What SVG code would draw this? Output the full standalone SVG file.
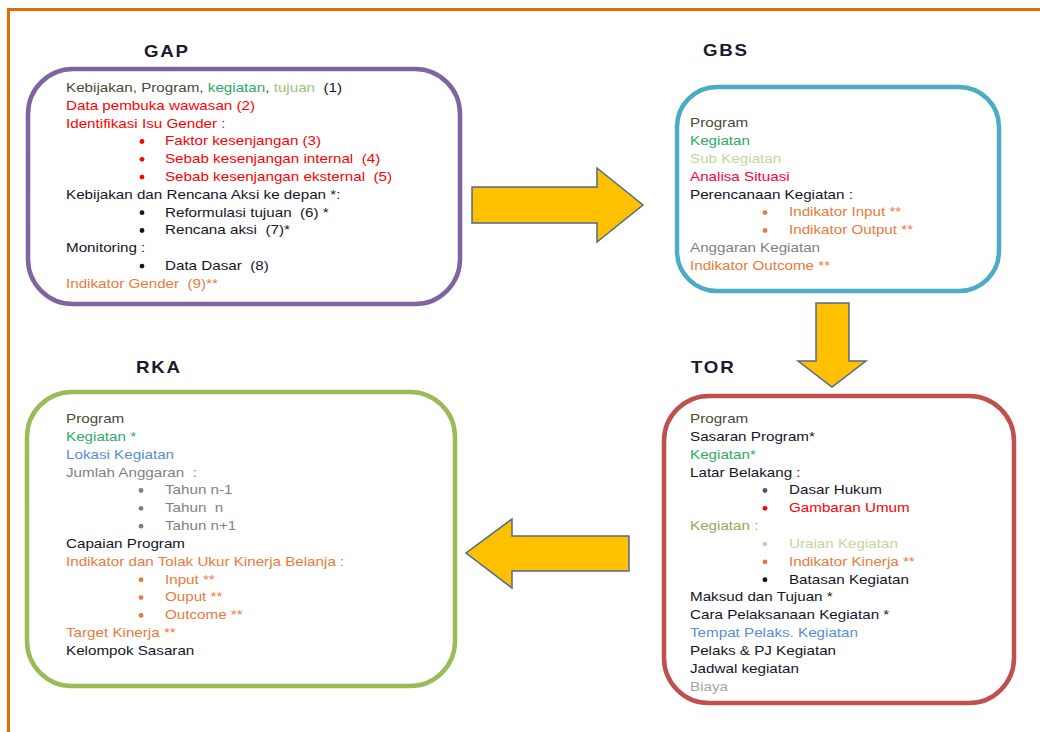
<svg xmlns="http://www.w3.org/2000/svg" width="1040" height="732" viewBox="0 0 1040 732">
<style>
text{font-family:"Liberation Sans",Arial,sans-serif;font-size:13px;fill:#1a1a2e;white-space:pre}
.title{font-size:16px;font-weight:bold;letter-spacing:1.5px;fill:#1a1a2e}
.box{fill:#fff;stroke-width:4.5}
.arrow{fill:#ffc000;stroke:#4f6b8a;stroke-width:1.5;stroke-linejoin:miter}
.dk{fill:#4a4a38}.gr{fill:#2eaa66}.pg{fill:#c3d69b}.ol{fill:#93a85e}.rd{fill:#ff0000}.rs{fill:#ff0033}.tj{fill:#9bc47b}.or{fill:#ea7a3c}.bl{fill:#558ed5}.gy{fill:#7f7f7f}.lg{fill:#a6a6a6}.bk{fill:#141428}.pu{fill:#604a7b}
</style>
<rect x="8.5" y="9.5" width="1040" height="740" fill="none" stroke="#e36c09" stroke-width="3"/>

<g id="connectors">
<polygon class="arrow" points="472,187 597,187 597,168 643,205 597,242 597,223 472,223"/>
<polygon class="arrow" points="816,303 849,303 849,361 866,361 832,387 798,361 816,361"/>
<polygon class="arrow" points="629,536 629,571 512,571 512,588 466,553 512,519 512,536"/>
</g>

<g id="gap">
<text class="title" transform="translate(144,0) scale(1.17,1)" x="0" y="57">GAP</text>
<rect class="box" x="28" y="69" width="432" height="235" rx="45" stroke="#8064a2"/>
<circle class="rd" cx="142" cy="141.5" r="2.4"/>
<circle class="rd" cx="142" cy="159.3" r="2.4"/>
<circle class="rd" cx="142" cy="177.1" r="2.4"/>
<circle class="bk" cx="142" cy="212.7" r="2.4"/>
<circle class="bk" cx="142" cy="230.5" r="2.4"/>
<circle class="bk" cx="142" cy="266.1" r="2.4"/>
<g transform="translate(66,0) scale(1.17,1)">
<text x="0" y="92"><tspan class="dk">Kebijakan, Program, </tspan><tspan class="gr">kegiatan</tspan><tspan class="dk">, </tspan><tspan class="tj">tujuan</tspan><tspan class="bk">  (1)</tspan></text>
<text class="rd" x="0" y="109.8">Data pembuka wawasan (2)</text>
<text class="rd" x="0" y="127.6">Identifikasi Isu Gender :</text>
<text class="rd" x="84.6" y="145.4">Faktor kesenjangan (3)</text>
<text class="rd" x="84.6" y="163.2">Sebab kesenjangan internal  (4)</text>
<text class="rd" x="84.6" y="181">Sebab kesenjangan eksternal  (5)</text>
<text class="bk" x="0" y="198.8">Kebijakan dan Rencana Aksi ke depan *:</text>
<text class="bk" x="84.6" y="216.6">Reformulasi tujuan  (6) *</text>
<text class="bk" x="84.6" y="234.4">Rencana aksi  (7)*</text>
<text class="bk" x="0" y="252.2">Monitoring :</text>
<text class="bk" x="84.6" y="270">Data Dasar  (8)</text>
<text class="or" x="0" y="287.8">Indikator Gender  (9)**</text>
</g>
</g>

<g id="gbs">
<text class="title" transform="translate(703,0) scale(1.17,1)" x="0" y="56">GBS</text>
<rect class="box" x="677" y="87" width="322" height="204" rx="40" stroke="#4bacc6"/>
<circle class="or" cx="765" cy="212.6" r="2.4"/>
<circle class="or" cx="765" cy="230.5" r="2.4"/>
<g transform="translate(690,0) scale(1.17,1)">
<text class="dk" x="0" y="127">Program</text>
<text class="gr" x="0" y="144.9">Kegiatan</text>
<text class="pg" x="0" y="162.8">Sub Kegiatan</text>
<text class="rs" x="0" y="180.7">Analisa Situasi</text>
<text class="bk" x="0" y="198.6">Perencanaan Kegiatan :</text>
<text class="or" x="84.6" y="216.5">Indikator Input **</text>
<text class="or" x="84.6" y="234.4">Indikator Output **</text>
<text class="gy" x="0" y="252.3">Anggaran Kegiatan</text>
<text class="or" x="0" y="270.2">Indikator Outcome **</text>
</g>
</g>

<g id="tor">
<text class="title" transform="translate(691,0) scale(1.17,1)" x="0" y="373">TOR</text>
<rect class="box" x="664" y="396" width="350" height="307" rx="45" stroke="#c0504d"/>
<circle class="pu" cx="765" cy="490.5" r="2.4"/>
<circle class="rd" cx="765" cy="508.35" r="2.4"/>
<circle class="pg" cx="765" cy="544.05" r="2.4"/>
<circle class="or" cx="765" cy="561.9" r="2.4"/>
<circle class="bk" cx="765" cy="579.75" r="2.4"/>
<g transform="translate(690,0) scale(1.17,1)">
<text class="dk" x="0" y="423">Program</text>
<text class="bk" x="0" y="440.85">Sasaran Program*</text>
<text class="gr" x="0" y="458.7">Kegiatan*</text>
<text class="bk" x="0" y="476.55">Latar Belakang :</text>
<text class="bk" x="84.6" y="494.4">Dasar Hukum</text>
<text class="rd" x="84.6" y="512.25">Gambaran Umum</text>
<text class="ol" x="0" y="530.1">Kegiatan :</text>
<text class="pg" x="84.6" y="547.95">Uraian Kegiatan</text>
<text class="or" x="84.6" y="565.8">Indikator Kinerja **</text>
<text class="bk" x="84.6" y="583.65">Batasan Kegiatan</text>
<text class="bk" x="0" y="601.5">Maksud dan Tujuan *</text>
<text class="bk" x="0" y="619.35">Cara Pelaksanaan Kegiatan *</text>
<text class="bl" x="0" y="637.2">Tempat Pelaks. Kegiatan</text>
<text class="bk" x="0" y="655.05">Pelaks &amp; PJ Kegiatan</text>
<text class="bk" x="0" y="672.9">Jadwal kegiatan</text>
<text class="lg" x="0" y="690.75">Biaya</text>
</g>
</g>

<g id="rka">
<text class="title" transform="translate(136,0) scale(1.17,1)" x="0" y="373">RKA</text>
<rect class="box" x="27" y="392" width="428" height="294" rx="45" stroke="#9bbb59"/>
<circle class="gy" cx="141" cy="490.5" r="2.4"/>
<circle class="gy" cx="141" cy="508.35" r="2.4"/>
<circle class="gy" cx="141" cy="526.2" r="2.4"/>
<circle class="or" cx="141" cy="579.75" r="2.4"/>
<circle class="or" cx="141" cy="597.6" r="2.4"/>
<circle class="or" cx="141" cy="615.45" r="2.4"/>
<g transform="translate(66,0) scale(1.17,1)">
<text class="dk" x="0" y="423">Program</text>
<text class="gr" x="0" y="440.85">Kegiatan *</text>
<text class="bl" x="0" y="458.7">Lokasi Kegiatan</text>
<text class="gy" x="0" y="476.55">Jumlah Anggaran  :</text>
<text class="gy" x="84.6" y="494.4">Tahun n-1</text>
<text class="gy" x="84.6" y="512.25">Tahun  n</text>
<text class="gy" x="84.6" y="530.1">Tahun n+1</text>
<text class="bk" x="0" y="547.95">Capaian Program</text>
<text class="or" x="0" y="565.8">Indikator dan Tolak Ukur Kinerja Belanja :</text>
<text class="or" x="84.6" y="583.65">Input **</text>
<text class="or" x="84.6" y="601.5">Ouput **</text>
<text class="or" x="84.6" y="619.35">Outcome **</text>
<text class="or" x="0" y="637.2">Target Kinerja **</text>
<text class="bk" x="0" y="655.05">Kelompok Sasaran</text>
</g>
</g>
</svg>
